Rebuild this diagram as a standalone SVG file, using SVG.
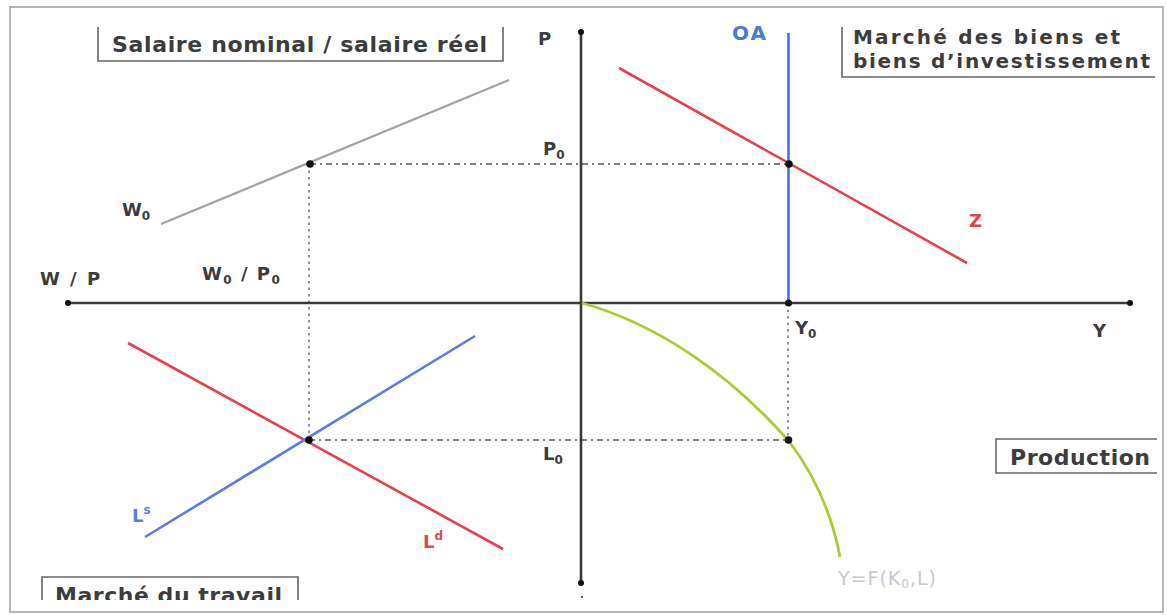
<svg xmlns="http://www.w3.org/2000/svg" width="1167" height="615" viewBox="0 0 1167 615">
<defs>
<style>
.axis{stroke:#3a3a3a;stroke-width:2.6;fill:none}
.guideh{stroke:#555;stroke-width:1.3;fill:none;stroke-dasharray:6 4 2 4}
.guidev{stroke:#555;stroke-width:1.3;fill:none;stroke-dasharray:2.5 4}
.box{stroke:#666;stroke-width:1.6;fill:none}
.title{font-family:"DejaVu Sans",sans-serif;font-weight:bold;font-size:22px;fill:#3c3c3c}
.lbl{font-family:"DejaVu Sans",sans-serif;font-weight:bold;font-size:18px;fill:#3c3c3c}
.sub{font-size:12px}
.red{stroke:#e8414e;stroke-width:2.6;fill:none}
.blue{stroke:#5a7de6;stroke-width:2.6;fill:none}
.dot{fill:#111}
</style>
<clipPath id="clipTravail"><rect x="0" y="0" width="1167" height="600"/></clipPath>
</defs>
<rect x="10" y="7" width="1153" height="605" fill="#fff" stroke="#b5b5b5" stroke-width="2"/>

<g id="connectors">
<line class="guideh" x1="310" y1="164" x2="789" y2="164"/>
<line class="guidev" x1="309" y1="164" x2="309" y2="440"/>
<line class="guideh" x1="309" y1="440" x2="788" y2="440"/>
<line class="guidev" x1="788" y1="303" x2="788" y2="440"/>
</g>

<g id="axes">
<line class="axis" x1="68" y1="303" x2="1130" y2="303"/>
<line class="axis" x1="581" y1="32" x2="581" y2="583"/>
<circle class="dot" cx="68" cy="303" r="3"/>
<circle class="dot" cx="1130" cy="303" r="3"/>
<circle class="dot" cx="581" cy="32" r="3"/>
<circle class="dot" cx="581" cy="583" r="3"/>
<circle cx="582" cy="597" r="1.2" fill="#666"/>
</g>

<g id="box-salaire">
<path class="box" d="M98,27 V61 H503 V27"/>
<text class="title" x="112" y="52" textLength="375">Salaire nominal / salaire réel</text>
</g>

<g id="box-biens">
<path class="box" d="M842,27 V77 H1155"/>
<text class="title" x="853" y="44" font-size="20" style="font-size:20px" textLength="267">Marché des biens et</text>
<text class="title" x="853" y="68" font-size="20" style="font-size:20px" textLength="297">biens d’investissement</text>
</g>

<g id="box-production">
<path class="box" d="M1157,439 H996 V473 H1157"/>
<text class="title" x="1010" y="465" textLength="140">Production</text>
</g>

<g id="box-travail">
<path class="box" d="M42,600 V577 H298 V600"/>
<text class="title" x="55" y="603" textLength="227" clip-path="url(#clipTravail)">Marché du travail</text>
</g>

<g id="curve-W0">
<line x1="161" y1="224" x2="509" y2="80" stroke="#a3a3a3" stroke-width="2.2"/>
<text class="lbl" x="122" y="216">W<tspan class="sub" dy="4">0</tspan></text>
</g>

<g id="curve-OA">
<line x1="788.5" y1="33" x2="788.5" y2="303" stroke="#4a6fe3" stroke-width="2.6"/>
<text class="lbl" x="732" y="40" style="fill:#4a7ad8;font-size:20px;letter-spacing:2px">OA</text>
</g>

<g id="curve-Z">
<line class="red" x1="619" y1="68" x2="967" y2="263"/>
<text class="lbl" x="969" y="227" style="fill:#e8414e">Z</text>
</g>

<g id="curve-Ld">
<line class="red" x1="128" y1="343" x2="503" y2="549"/>
<text class="lbl" x="423" y="548" style="fill:#e8414e">L<tspan class="sub" dy="-8">d</tspan></text>
</g>

<g id="curve-Ls">
<line class="blue" x1="145" y1="537" x2="475" y2="336"/>
<text class="lbl" x="132" y="522" style="fill:#5a7de6">L<tspan class="sub" dy="-8">s</tspan></text>
</g>

<g id="curve-production">
<path d="M582,303 C660,325 730,375 788,440 C815,475 832,515 840,557" stroke="#a8cc35" stroke-width="2.8" fill="none"/>
<text x="838" y="585" font-family="DejaVu Sans, sans-serif" font-size="19" fill="#c4c8d0" letter-spacing="1">Y=F(K<tspan font-size="12" dy="3">0</tspan><tspan dy="-3">,L)</tspan></text>
</g>

<g id="points">
<circle class="dot" cx="310" cy="164" r="3.8"/>
<circle class="dot" cx="789" cy="164" r="3.8"/>
<circle class="dot" cx="788.5" cy="303" r="3.5"/>
<circle class="dot" cx="309" cy="440" r="3.8"/>
<circle class="dot" cx="788.5" cy="440" r="3.8"/>
</g>

<g id="axis-labels">
<text class="lbl" x="538" y="45">P</text>
<text class="lbl" x="543" y="155">P<tspan class="sub" dy="4">0</tspan></text>
<text class="lbl" x="40" y="285" style="letter-spacing:2px">W / P</text>
<text class="lbl" x="202" y="280" style="letter-spacing:1.5px">W<tspan class="sub" dy="4">0</tspan><tspan dy="-4"> / P</tspan><tspan class="sub" dy="4">0</tspan></text>
<text class="lbl" x="543" y="460">L<tspan class="sub" dy="4">0</tspan></text>
<text class="lbl" x="795" y="334">Y<tspan class="sub" dy="4">0</tspan></text>
<text class="lbl" x="1093" y="337">Y</text>
</g>
</svg>
